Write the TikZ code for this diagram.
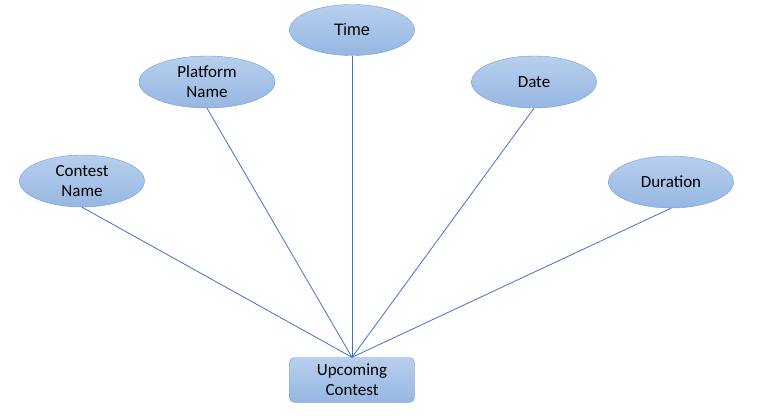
\documentclass[tikz,border=0pt]{standalone}
\usepackage{fontspec}
\setmainfont{Carlito}
\newfontfamily\arialfont{Liberation Sans}
\usetikzlibrary{shapes.geometric}
\definecolor{attrtop}{RGB}{184,207,238}
\definecolor{attrbot}{RGB}{150,183,226}
\definecolor{attredge}{RGB}{113,157,215}
\definecolor{linkblue}{RGB}{68,114,196}
\tikzset{
  attr/.style={ellipse, draw=attredge, top color=attrtop, bottom color=attrbot,
    minimum width=125pt, minimum height=52pt, inner sep=0pt, align=center,
    font=\fontsize{17}{20}\selectfont},
  entity/.style={rectangle, rounded corners=5pt, draw=attredge, top color=attrtop,
    bottom color=attrbot, minimum width=125pt, minimum height=45pt, inner sep=0pt,
    align=center, font=\fontsize{17}{20}\selectfont},
  link/.style={draw=linkblue, line width=0.8pt}
}
\begin{document}
\begin{tikzpicture}[x=1pt,y=-1pt]
      \useasboundingbox (0,0) rectangle (765,415);
      \node[attr] (cname) at (82,181) {Contest\\Name};
      \node[attr, minimum width=136pt] (pname) at (207,82) {Platform\\Name};
      \node[attr, minimum height=51pt, font=\arialfont\fontsize{16.5}{20}\selectfont] (time) at (352,30) {Time};
      \node[attr] (date) at (534,82) {Date};
      \node[attr] (dur) at (671,182) {Duration};
      \node[entity] (upc) at (352,380) {Upcoming\\Contest};
      \draw[link] (cname.south) -- (upc.north);
      \draw[link] (pname.south) -- (upc.north);
      \draw[link] (time.south) -- (upc.north);
      \draw[link] (date.south) -- (upc.north);
      \draw[link] (dur.south) -- (upc.north);
    \end{tikzpicture}
\end{document}
